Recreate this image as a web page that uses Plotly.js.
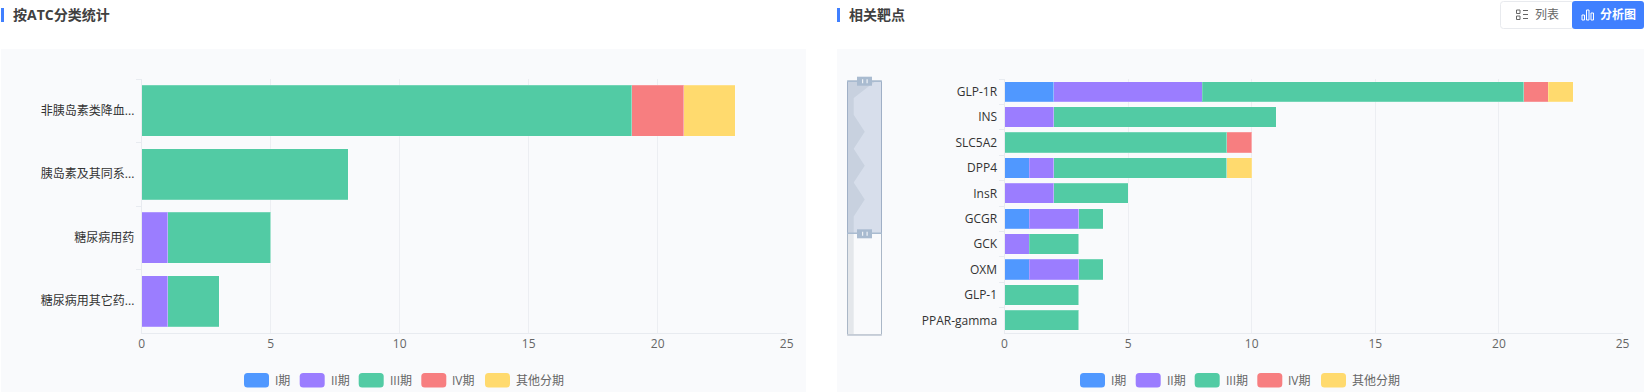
<!DOCTYPE html>
<html>
<head>
<meta charset="utf-8">
<script src="https://cdn.plot.ly/plotly-3.0.1.min.js"></script>
<style>html,body{margin:0;padding:0;background:#fff;overflow:hidden}#c{width:1644px;height:392px}</style>
</head>
<body>
<div id="c"></div>
<script>
const seriesNames = ['I期', 'II期', 'III期', 'IV期', '其他分期'];
const seriesColors = ['#5098ff', '#9b7dff', '#52cba4', '#f77e80', '#ffda6e'];

const atcCategories = ['非胰岛素类降血...', '胰岛素及其同系...', '糖尿病用药', '糖尿病用其它药...'];
const atcPhase1 = [0, 0, 0, 0];
const atcPhase2 = [0, 0, 1, 1];
const atcPhase3 = [19, 8, 4, 2];
const atcPhase4 = [2, 0, 0, 0];
const atcOther = [2, 0, 0, 0];

const targetCategories = ['GLP-1R', 'INS', 'SLC5A2', 'DPP4', 'InsR', 'GCGR', 'GCK', 'OXM', 'GLP-1', 'PPAR-gamma'];
const targetPhase1 = [2, 0, 0, 1, 0, 1, 0, 1, 0, 0];
const targetPhase2 = [6, 2, 0, 1, 2, 2, 1, 2, 0, 0];
const targetPhase3 = [13, 9, 9, 7, 3, 1, 2, 1, 3, 3];
const targetPhase4 = [1, 0, 1, 0, 0, 0, 0, 0, 0, 0];
const targetOther = [1, 0, 0, 1, 0, 0, 0, 0, 0, 0];

// dataZoom silhouette: phase-I counts of all 16 targets (6 are off-screen, with no phase-I count)
const zoomSilhouette = [2, 0, 0, 1, 0, 1, 0, 1, 0, 0, 0, 0, 0, 0, 0, 0];

const W = 1644, H = 392;
const FONT = '"Open Sans","Noto Sans CJK SC",sans-serif';
const px = x => x / W;
const py = y => 1 - y / H;

const traces = [];
function addBars(cats, rows, xa, ya) {
  rows.forEach((vals, i) => {
    traces.push({
      type: 'bar', orientation: 'h', name: seriesNames[i], y: cats, x: vals,
      xaxis: xa, yaxis: ya, width: 0.8, hoverinfo: 'none', showlegend: false,
      marker: { color: seriesColors[i], line: { color: 'rgba(255,255,255,0.2)', width: 1 } }
    });
  });
}
addBars(atcCategories, [atcPhase1, atcPhase2, atcPhase3, atcPhase4, atcOther], 'x', 'y');
addBars(targetCategories, [targetPhase1, targetPhase2, targetPhase3, targetPhase4, targetOther], 'x2', 'y2');

const zoomIdx = zoomSilhouette.map((_, i) => i);
const zoomFloor = -0.61;
traces.push({
  type: 'scatter', mode: 'lines', xaxis: 'x3', yaxis: 'y3', hoverinfo: 'none', showlegend: false,
  x: [zoomFloor, ...zoomSilhouette, zoomFloor], y: [0, ...zoomIdx, zoomIdx.length - 1],
  fill: 'toself', fillcolor: 'rgba(95,105,125,0.13)', line: { width: 0 }
});

function valueAxis(l, r, anchor) {
  return {
    domain: [px(l), px(r)], range: [0, 25], tick0: 0, dtick: 5, anchor: anchor, fixedrange: true,
    showgrid: true, gridcolor: '#eceef2', gridwidth: 1, zeroline: false,
    showline: true, linecolor: '#e8ebf0', linewidth: 1, ticks: '',
    tickfont: { family: FONT, size: 12, color: '#666' }, automargin: false
  };
}
function catAxis(cats, anchor) {
  return {
    domain: [py(333), py(79)], type: 'category', categoryorder: 'array', categoryarray: cats,
    autorange: false, range: [cats.length - 0.5, -0.5], anchor: anchor, fixedrange: true,
    showgrid: false, zeroline: false, showline: true, linecolor: '#e8ebf0', linewidth: 1,
    ticks: 'outside', tickson: 'boundaries', ticklen: 5, tickcolor: '#e8ebf0', tickwidth: 1,
    ticklabelstandoff: 4,
    tickfont: { family: FONT, size: 12, color: '#333' }, automargin: false
  };
}

const shapes = [];
const annotations = [];
function rect(x0, y0, x1, y1, fill, layer, lineColor) {
  shapes.push({
    type: 'rect', xref: 'paper', yref: 'paper', x0: px(x0), x1: px(x1), y0: py(y0), y1: py(y1),
    fillcolor: fill, layer: layer || 'below',
    line: lineColor ? { color: lineColor, width: 1 } : { width: 0 }
  });
}
function roundRect(x0, y0, x1, y1, r, fill, lineColor) {
  const X = v => px(v), Y = v => py(v);
  const d = `M${X(x0 + r)},${Y(y0)} L${X(x1 - r)},${Y(y0)} Q${X(x1)},${Y(y0)} ${X(x1)},${Y(y0 + r)} ` +
    `L${X(x1)},${Y(y1 - r)} Q${X(x1)},${Y(y1)} ${X(x1 - r)},${Y(y1)} L${X(x0 + r)},${Y(y1)} ` +
    `Q${X(x0)},${Y(y1)} ${X(x0)},${Y(y1 - r)} L${X(x0)},${Y(y0 + r)} Q${X(x0)},${Y(y0)} ${X(x0 + r)},${Y(y0)} Z`;
  shapes.push({
    type: 'path', xref: 'paper', yref: 'paper', path: d, fillcolor: fill, layer: 'below',
    line: lineColor ? { color: lineColor, width: 1 } : { width: 0 }
  });
}
function text(x, y, str, size, color, weight, anchor) {
  annotations.push({
    xref: 'paper', yref: 'paper', x: px(x), y: py(y), text: str, showarrow: false,
    xanchor: anchor || 'left', yanchor: 'middle', borderpad: 0, xshift: 0,
    font: { family: FONT, size: size, color: color, weight: weight || 400 }
  });
}

// panels
rect(1, 49, 806, 392, '#f9fafc');
rect(837, 49, 1644, 392, '#f9fafc');

// headings
rect(1, 8, 4, 22, '#4080ff');
text(12, 15, '按ATC分类统计', 14, '#404040', 700);
rect(837, 8, 840, 22, '#4080ff');
text(848, 15, '相关靶点', 14, '#404040', 700);

// toggle buttons
roundRect(1500.5, 1.5, 1574, 28.5, 3, '#fff', '#e8eaee');
roundRect(1572, 1, 1644, 29, 3, '#4080ff');
text(1534, 15, '列表', 12, '#666');
text(1599, 15, '分析图', 12, '#fff', 700);
// list icon
rect(1516.5, 10, 1520, 13.5, 'rgba(0,0,0,0)', 'below', '#666');
rect(1516.5, 16, 1520, 19.5, 'rgba(0,0,0,0)', 'below', '#666');
rect(1523, 10, 1528, 11, '#666');
rect(1523, 14, 1528, 15, '#666');
rect(1523, 18, 1528, 19, '#666');
// chart icon
rect(1582, 15, 1584.5, 20, 'rgba(0,0,0,0)', 'below', '#fff');
rect(1586.5, 10, 1589, 20, 'rgba(0,0,0,0)', 'below', '#fff');
rect(1591, 13, 1593.5, 20, 'rgba(0,0,0,0)', 'below', '#fff');

// legends
const swatchLeft = [244, 299.7, 358.7, 421.3, 485];
[0, 836].forEach(off => {
  seriesNames.forEach((n, i) => {
    const x = swatchLeft[i] + off;
    roundRect(x, 373, x + 25, 387.5, 3.5, seriesColors[i]);
    text(x + 30, 380, n, 12, '#666');
  });
});

// dataZoom frame, selection, handles
const handleColor = '#a9bbd0';
rect(847.5, 81, 881.5, 335, 'rgba(0,0,0,0)', 'above', '#aab7c7');
rect(847, 81, 882, 233.4, 'rgba(135,160,195,0.3)', 'above');
rect(847, 80.5, 882, 82, handleColor, 'above');
rect(847, 232.6, 882, 234, handleColor, 'above');
rect(847, 334, 882, 335.5, '#c5ccd6', 'above');
[[76.7, 85.7], [229.3, 238.3]].forEach(h => {
  rect(857, h[0], 872, h[1], handleColor, 'above');
  rect(862, h[0] + 2.5, 863.2, h[1] - 2.5, '#eef2f6', 'above');
  rect(866.5, h[0] + 2.5, 867.7, h[1] - 2.5, '#eef2f6', 'above');
});

const layout = {
  width: W, height: H, margin: { l: 0, r: 0, t: 0, b: 0 }, autosize: false,
  paper_bgcolor: '#fff', plot_bgcolor: 'rgba(0,0,0,0)', barmode: 'stack', showlegend: false,
  font: { family: FONT },
  xaxis: valueAxis(141.7, 786.7, 'y'),
  yaxis: catAxis(atcCategories, 'x'),
  xaxis2: valueAxis(1004.5, 1622.5, 'y2'),
  yaxis2: catAxis(targetCategories, 'x2'),
  xaxis3: { domain: [px(847), px(881.7)], range: [zoomFloor, 2.54], visible: false, anchor: 'y3', fixedrange: true },
  yaxis3: { domain: [py(335), py(81)], range: [zoomIdx.length - 1, 0], visible: false, anchor: 'x3', fixedrange: true },
  shapes: shapes, annotations: annotations
};
Plotly.newPlot('c', traces, layout, { displayModeBar: false, responsive: false });
</script>
</body>
</html>
